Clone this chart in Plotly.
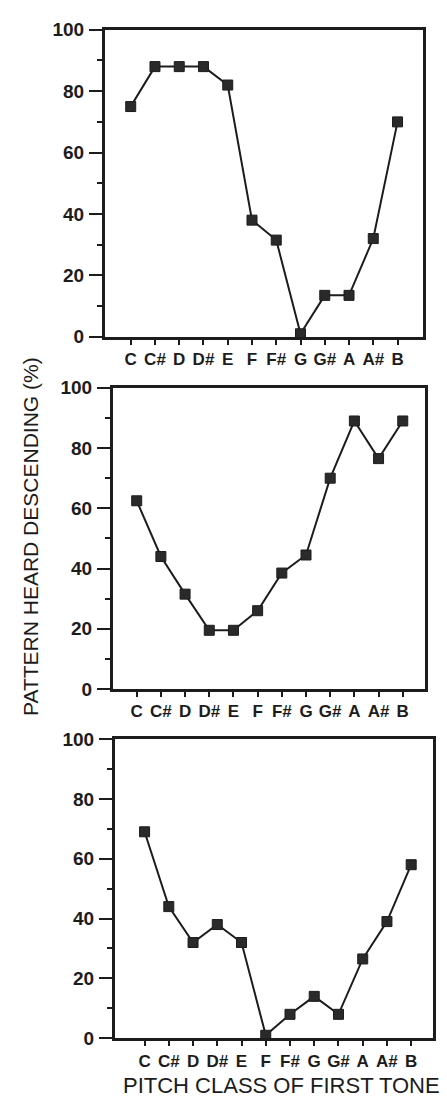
import plotly.graph_objects as go

pitch_classes = ["C", "C#", "D", "D#", "E", "F", "F#", "G", "G#", "A", "A#", "B"]
panel1_values = [75, 88, 88, 88, 82, 38, 31.5, 1, 13.5, 13.5, 32, 70]
panel2_values = [62.5, 44, 31.5, 19.5, 19.5, 26, 38.5, 44.5, 70, 89, 76.5, 89]
panel3_values = [69, 44, 32, 38, 32, 1, 8, 14, 8, 26.5, 39, 58]
y_tick_values = [0, 20, 40, 60, 80, 100]
y_minor_values = [10, 30, 50, 70, 90]
y_title = "PATTERN HEARD DESCENDING (%)"
x_title = "PITCH CLASS OF FIRST TONE"

WIN_W, WIN_H = 447, 1114
OFF = 8  # default page body margin
W, H = WIN_W - OFF, WIN_H - OFF
ink = "#1c1c1c"
font_family = "Liberation Sans, Arial, sans-serif"


def fx(px):
    return (px - OFF) / W


def fy(py):
    return 1 - (py - OFF) / H


# plot boxes in window pixels: (left, right, top, bottom), x range
panels = [
    (panel1_values, (105, 423, 20, 333), [-1.06, 12.05]),
    (panel2_values, (113, 425, 385, 692), [-0.98, 11.92]),
    (panel3_values, (115, 433, 743, 1048), [-1.22, 11.90]),
]

x_idx = list(range(len(pitch_classes)))
fig = go.Figure()
layout = {}
for i, (vals, (l, r, t, b), xr) in enumerate(panels, start=1):
    sfx = "" if i == 1 else str(i)
    fig.add_trace(go.Scatter(
        x=x_idx, y=vals, mode="lines+markers",
        xaxis="x" + sfx, yaxis="y" + sfx,
        line=dict(color=ink, width=2),
        marker=dict(symbol="square", size=10, color="#2a2a2a",
                    line=dict(color=ink, width=1)),
        showlegend=False, cliponaxis=False,
    ))
    layout["xaxis" + sfx] = dict(
        domain=[fx(l), fx(r)], range=xr, anchor="y" + sfx,
        tickmode="array", tickvals=x_idx, ticktext=pitch_classes,
        ticks="outside", ticklen=5, tickwidth=2, tickcolor=ink,
        showline=True, linewidth=3, linecolor=ink, mirror=True,
        showgrid=False, zeroline=False,
        tickfont=dict(family=font_family, size=17, color=ink, weight="bold"),
        fixedrange=True,
    )
    layout["yaxis" + sfx] = dict(
        domain=[fy(b), fy(t)], range=[0, 100], anchor="x" + sfx,
        tickmode="array", tickvals=y_tick_values,
        ticks="outside", ticklen=13, tickwidth=2, tickcolor=ink,
        minor=dict(tickmode="array", tickvals=y_minor_values,
                   ticks="outside", ticklen=5, tickwidth=2, tickcolor=ink),
        showline=True, linewidth=3, linecolor=ink, mirror=True,
        showgrid=False, zeroline=False,
        ticklabelstandoff=1,
        tickfont=dict(family=font_family, size=19, color=ink, weight="bold"),
        fixedrange=True,
    )

fig.update_layout(
    width=W, height=H,
    margin=dict(l=0, r=0, t=0, b=0),
    paper_bgcolor="white", plot_bgcolor="white",
    **layout,
)

fig.add_annotation(
    text=y_title, xref="paper", yref="paper",
    x=fx(31), y=fy(537), xanchor="center", yanchor="middle",
    textangle=-90, showarrow=False,
    font=dict(family=font_family, size=21, color=ink),
)
fig.add_annotation(
    text=x_title, xref="paper", yref="paper",
    x=fx(121), y=fy(1096), xanchor="left", yanchor="middle",
    showarrow=False,
    font=dict(family=font_family, size=22, color=ink),
)

fig.write_html("out.html", config={"displayModeBar": False})
